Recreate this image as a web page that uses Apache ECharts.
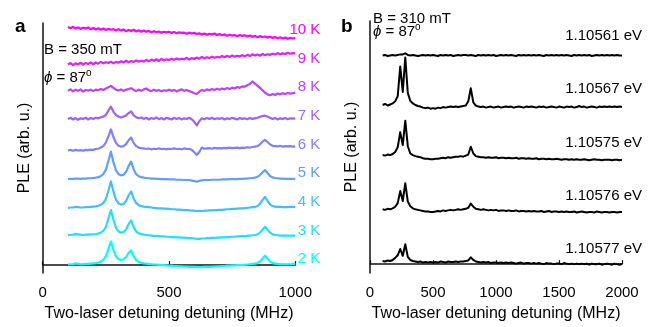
<!DOCTYPE html>
<html>
<head>
<meta charset="utf-8">
<script src="https://cdn.jsdelivr.net/npm/echarts@6/dist/echarts.min.js"></script>
<style>
  html, body { margin: 0; padding: 0; background: #fff; }
  #chart { width: 654px; height: 327px; }
</style>
</head>
<body>
<div id="chart"></div>
<script>
// ---- panel a : PLE vs temperature ----
var tempNames = ['2 K', '3 K', '4 K', '5 K', '6 K', '7 K', '8 K', '9 K', '10 K'];
var offsetsA = [0, 1, 1.96, 2.94, 3.92, 5, 5.96, 7, 8];

var detuningA = [
  100, 110, 120, 130, 140, 150, 160, 170, 180, 190,
  200, 210, 220, 230, 240, 250, 260, 270, 280, 290,
  300, 310, 320, 330, 340, 350, 360, 370, 380, 390,
  400, 410, 420, 430, 440, 450, 460, 470, 480, 490,
  500, 510, 520, 530, 540, 550, 560, 570, 580, 590,
  600, 610, 620, 630, 640, 650, 660, 670, 680, 690,
  700, 710, 720, 730, 740, 750, 760, 770, 780, 790,
  800, 810, 820, 830, 840, 850, 860, 870, 880, 890,
  900, 910, 920, 930, 940, 950, 960, 970, 980, 990,
  1000
];

var ple2K = [
  0.02, 0.03, 0.03, 0.06, 0.04, 0.03, 0.03, 0.04, 0.04, 0.05,
  0.06, 0.07, 0.09, 0.12, 0.18, 0.30, 0.55, 0.81, 0.52, 0.30,
  0.20, 0.18, 0.20, 0.27, 0.42, 0.50, 0.30, 0.17, 0.11, 0.08,
  0.06, 0.05, 0.04, 0.03, 0.02, 0.02, 0.01, 0.00, 0.00, -0.01,
  -0.02, -0.02, -0.03, -0.03, -0.04, -0.04, -0.05, -0.05, -0.06, -0.06,
  -0.06, -0.07, -0.07, -0.07, -0.06, -0.06, -0.06, -0.05, -0.05, -0.04,
  -0.04, -0.03, -0.03, -0.02, -0.02, -0.01, -0.01, 0.00, 0.00, 0.01,
  0.01, 0.02, 0.03, 0.04, 0.05, 0.07, 0.12, 0.22, 0.32, 0.22,
  0.12, 0.07, 0.05, 0.04, 0.03, 0.03, 0.03, 0.03, 0.03, 0.04,
  0.04
];
var ple3K = [
  0.03, 0.03, 0.04, 0.06, 0.05, 0.04, 0.03, 0.04, 0.04, 0.05,
  0.05, 0.06, 0.08, 0.11, 0.17, 0.30, 0.58, 0.88, 0.55, 0.28,
  0.15, 0.11, 0.13, 0.22, 0.40, 0.53, 0.30, 0.15, 0.09, 0.06,
  0.04, 0.03, 0.02, 0.01, 0.00, 0.00, -0.01, -0.02, -0.02, -0.03,
  -0.03, -0.04, -0.04, -0.05, -0.05, -0.06, -0.06, -0.07, -0.08, -0.08,
  -0.09, -0.10, -0.10, -0.09, -0.09, -0.08, -0.08, -0.07, -0.07, -0.06,
  -0.06, -0.05, -0.05, -0.04, -0.04, -0.03, -0.03, -0.02, -0.02, -0.01,
  -0.01, 0.00, 0.01, 0.02, 0.03, 0.05, 0.11, 0.21, 0.31, 0.21,
  0.11, 0.05, 0.03, 0.02, 0.01, 0.01, 0.01, 0.01, 0.01, 0.01,
  0.01
];
var ple4K = [
  0.00, 0.01, 0.01, 0.03, 0.02, 0.01, 0.01, 0.02, 0.02, 0.03,
  0.04, 0.05, 0.07, 0.10, 0.17, 0.30, 0.58, 0.90, 0.56, 0.28,
  0.15, 0.11, 0.13, 0.23, 0.42, 0.56, 0.32, 0.16, 0.09, 0.06,
  0.04, 0.03, 0.02, 0.01, 0.00, -0.01, -0.02, -0.02, -0.03, -0.03,
  -0.04, -0.05, -0.05, -0.06, -0.06, -0.07, -0.08, -0.08, -0.09, -0.10,
  -0.10, -0.11, -0.11, -0.11, -0.10, -0.10, -0.09, -0.09, -0.08, -0.08,
  -0.07, -0.07, -0.06, -0.05, -0.05, -0.04, -0.04, -0.03, -0.02, -0.02,
  -0.01, 0.00, 0.01, 0.02, 0.03, 0.06, 0.14, 0.26, 0.37, 0.24,
  0.12, 0.06, 0.04, 0.03, 0.03, 0.02, 0.02, 0.02, 0.03, 0.03,
  0.03
];
var ple5K = [
  0.00, 0.01, 0.01, 0.02, 0.02, 0.01, 0.02, 0.02, 0.03, 0.03,
  0.04, 0.05, 0.07, 0.10, 0.17, 0.32, 0.62, 0.94, 0.58, 0.30,
  0.17, 0.13, 0.15, 0.25, 0.45, 0.60, 0.34, 0.17, 0.10, 0.07,
  0.05, 0.04, 0.03, 0.02, 0.02, 0.01, 0.01, 0.00, 0.00, 0.00,
  -0.01, -0.01, -0.01, -0.02, -0.02, -0.02, -0.03, -0.03, -0.03, -0.05,
  -0.07, -0.09, -0.06, -0.04, -0.03, -0.03, -0.03, -0.02, -0.02, -0.02,
  -0.02, -0.01, -0.01, -0.01, 0.00, 0.00, 0.00, 0.00, 0.01, 0.01,
  0.02, 0.02, 0.03, 0.04, 0.05, 0.08, 0.14, 0.23, 0.31, 0.21,
  0.11, 0.06, 0.04, 0.03, 0.02, 0.02, 0.01, 0.01, 0.01, 0.01,
  0.01
];
var ple6K = [
  0.00, 0.02, -0.01, 0.02, 0.00, 0.01, -0.01, 0.02, 0.01, 0.03,
  0.02, 0.05, 0.06, 0.10, 0.15, 0.27, 0.48, 0.72, 0.46, 0.26,
  0.16, 0.13, 0.15, 0.22, 0.35, 0.44, 0.26, 0.15, 0.10, 0.08,
  0.07, 0.05, 0.07, 0.04, 0.06, 0.05, 0.07, 0.05, 0.06, 0.04,
  0.06, 0.05, 0.07, 0.05, 0.06, 0.04, 0.07, 0.05, 0.06, 0.02,
  -0.06, -0.15, -0.05, 0.10, 0.06, 0.07, 0.08, 0.06, 0.09, 0.07,
  0.08, 0.07, 0.09, 0.08, 0.10, 0.08, 0.09, 0.10, 0.08, 0.10,
  0.09, 0.11, 0.10, 0.12, 0.13, 0.15, 0.21, 0.30, 0.36, 0.29,
  0.21, 0.16, 0.15, 0.14, 0.16, 0.13, 0.15, 0.14, 0.15, 0.13,
  0.14
];
var ple7K = [
  0.00, 0.04, -0.02, 0.03, -0.03, 0.02, 0.00, 0.04, -0.02, 0.03,
  0.00, 0.04, 0.02, 0.06, 0.08, 0.14, 0.28, 0.42, 0.25, 0.13,
  0.08, 0.05, 0.08, 0.12, 0.20, 0.26, 0.12, 0.06, 0.02, 0.05,
  0.00, 0.04, -0.02, 0.03, 0.00, 0.05, -0.01, 0.03, -0.02, 0.04,
  0.01, -0.02, 0.04, 0.00, 0.03, -0.02, 0.02, 0.00, 0.04, -0.01,
  -0.10, -0.22, -0.08, 0.02, -0.01, 0.03, 0.00, 0.04, -0.01, 0.02,
  0.00, 0.03, -0.02, 0.02, 0.00, 0.04, 0.01, -0.02, 0.03, 0.00,
  0.02, -0.01, 0.03, 0.00, 0.02, 0.04, 0.07, 0.10, 0.11, 0.08,
  0.04, 0.00, 0.03, -0.02, 0.02, 0.00, 0.03, -0.01, 0.02, 0.01,
  0.02
];
var ple8K = [
  0.00, 0.05, -0.02, 0.04, 0.00, 0.05, -0.03, 0.03, 0.01, 0.04,
  -0.01, 0.04, 0.02, 0.06, 0.03, 0.08, 0.12, 0.17, 0.10, 0.04,
  0.01, 0.05, 0.00, 0.04, 0.06, 0.09, 0.03, -0.01, 0.04, 0.00,
  0.05, 0.08, 0.02, -0.01, 0.04, 0.00, 0.03, -0.02, 0.02, 0.00,
  0.04, 0.00, 0.03, -0.02, 0.02, 0.05, 0.00, 0.03, -0.01, -0.04,
  -0.08, -0.11, -0.03, 0.03, 0.00, 0.05, 0.02, 0.06, 0.03, 0.07,
  0.04, 0.08, 0.05, 0.10, 0.06, 0.11, 0.08, 0.13, 0.10, 0.15,
  0.14, 0.19, 0.23, 0.32, 0.25, 0.18, 0.10, 0.02, -0.06, -0.12,
  -0.15, -0.11, -0.14, -0.09, -0.12, -0.08, -0.11, -0.07, -0.10, -0.08,
  -0.06
];
var ple9K = [
  -0.14, -0.09, -0.16, -0.10, -0.13, -0.08, -0.14, -0.09, -0.12, -0.07,
  -0.13, -0.07, -0.11, -0.05, -0.10, -0.06, -0.09, -0.04, -0.10, -0.05,
  -0.08, -0.03, -0.07, -0.01, -0.06, -0.02, -0.05, 0.00, -0.04, -0.01,
  -0.04, 0.02, -0.03, 0.03, -0.01, 0.04, -0.02, 0.05, 0.00, 0.04,
  0.01, 0.06, 0.02, 0.07, 0.03, 0.06, 0.04, 0.09, 0.03, 0.08,
  0.05, 0.10, 0.06, 0.12, 0.07, 0.11, 0.08, 0.13, 0.09, 0.12,
  0.10, 0.15, 0.11, 0.16, 0.12, 0.17, 0.13, 0.16, 0.14, 0.18,
  0.14, 0.19, 0.15, 0.21, 0.17, 0.20, 0.16, 0.22, 0.18, 0.21,
  0.19, 0.23, 0.20, 0.25, 0.21, 0.24, 0.22, 0.26, 0.23, 0.25,
  0.24
];
var ple10K = [
  0.14, 0.10, 0.15, 0.09, 0.13, 0.08, 0.12, 0.09, 0.13, 0.07,
  0.11, 0.06, 0.10, 0.05, 0.09, 0.04, 0.08, 0.05, 0.07, 0.02,
  0.07, 0.02, 0.06, 0.00, 0.04, 0.01, 0.05, -0.01, 0.03, -0.02,
  0.02, -0.02, 0.01, -0.04, 0.00, -0.03, -0.01, -0.05, -0.02, -0.04,
  -0.02, -0.06, -0.03, -0.07, -0.04, -0.06, -0.05, -0.09, -0.05, -0.08,
  -0.06, -0.10, -0.07, -0.11, -0.08, -0.12, -0.09, -0.11, -0.08, -0.13,
  -0.10, -0.14, -0.11, -0.16, -0.12, -0.15, -0.13, -0.17, -0.13, -0.16,
  -0.14, -0.18, -0.15, -0.19, -0.16, -0.21, -0.17, -0.20, -0.18, -0.22,
  -0.19, -0.23, -0.20, -0.24, -0.21, -0.25, -0.22, -0.26, -0.23, -0.25,
  -0.24
];
var pleA = [ple2K, ple3K, ple4K, ple5K, ple6K, ple7K, ple8K, ple9K, ple10K];

// ---- panel b : PLE vs laser energy ----
var energyNames = ['1.10577 eV', '1.10576 eV', '1.10575 eV', '1.10567 eV', '1.10561 eV'];
var offsetsB = [0, 1, 2, 3, 4];

var detuningB = [
  100, 120, 140, 160, 180, 200, 220, 240, 260, 280,
  300, 320, 340, 360, 380, 400, 420, 440, 460, 480,
  500, 520, 540, 560, 580, 600, 620, 640, 660, 680,
  700, 720, 740, 760, 780, 800, 820, 840, 860, 880,
  900, 920, 940, 960, 980, 1000, 1020, 1040, 1060, 1080,
  1100, 1120, 1140, 1160, 1180, 1200, 1220, 1240, 1260, 1280,
  1300, 1320, 1340, 1360, 1380, 1400, 1420, 1440, 1460, 1480,
  1500, 1520, 1540, 1560, 1580, 1600, 1620, 1640, 1660, 1680,
  1700, 1720, 1740, 1760, 1780, 1800, 1820, 1840, 1860, 1880,
  1900, 1920, 1940, 1960, 1980, 2000
];

var ple10577 = [
  0.06, 0.05, 0.07, 0.06, 0.08, 0.12, 0.17, 0.29, 0.16, 0.38,
  0.14, 0.08, 0.06, 0.05, 0.04, 0.05, 0.03, 0.04, 0.03, 0.04,
  0.03, 0.04, 0.03, 0.05, 0.04, 0.03, 0.05, 0.04, 0.04, 0.05,
  0.04, 0.05, 0.05, 0.06, 0.07, 0.13, 0.08, 0.05, 0.04, 0.03,
  0.04, 0.03, 0.04, 0.02, 0.03, 0.03, 0.02, 0.03, 0.02, 0.03,
  0.02, 0.03, 0.02, 0.01, 0.02, 0.03, 0.01, 0.02, 0.02, 0.01,
  0.02, 0.01, 0.02, 0.01, 0.00, 0.02, 0.01, 0.01, 0.00, 0.01,
  0.01, 0.00, 0.02, 0.01, 0.00, 0.01, 0.00, 0.01, 0.00, 0.01,
  0.00, 0.01, -0.01, 0.01, 0.00, 0.00, 0.01, -0.01, 0.00, 0.01,
  0.00, -0.01, 0.01, 0.00, -0.01, 0.00
];
var ple10576 = [
  0.05, 0.04, 0.06, 0.05, 0.07, 0.10, 0.17, 0.40, 0.21, 0.55,
  0.20, 0.11, 0.07, 0.05, 0.04, 0.03, 0.02, 0.01, 0.01, 0.00,
  0.00, 0.01, 0.02, 0.01, 0.03, 0.02, 0.03, 0.04, 0.03, 0.04,
  0.05, 0.04, 0.05, 0.06, 0.08, 0.16, 0.10, 0.06, 0.05, 0.04,
  0.05, 0.04, 0.03, 0.04, 0.03, 0.04, 0.02, 0.03, 0.03, 0.02,
  0.03, 0.02, 0.02, 0.03, 0.01, 0.02, 0.02, 0.01, 0.02, 0.01,
  0.02, 0.01, 0.01, 0.02, 0.00, 0.01, 0.02, 0.00, 0.01, 0.01,
  0.00, 0.01, 0.00, 0.01, 0.00, 0.00, 0.01, -0.01, 0.00, 0.01,
  0.00, -0.01, 0.00, 0.00, -0.01, 0.01, 0.00, -0.01, 0.00, 0.00,
  -0.01, 0.00, 0.00, -0.01, 0.00, 0.00
];
var ple10575 = [
  0.09, 0.08, 0.10, 0.09, 0.11, 0.15, 0.24, 0.53, 0.28, 0.75,
  0.26, 0.12, 0.09, 0.07, 0.06, 0.05, 0.03, 0.02, 0.02, 0.01,
  0.01, 0.02, 0.02, 0.03, 0.04, 0.03, 0.05, 0.04, 0.05, 0.06,
  0.06, 0.07, 0.06, 0.08, 0.10, 0.25, 0.12, 0.07, 0.06, 0.05,
  0.05, 0.04, 0.05, 0.04, 0.04, 0.05, 0.03, 0.04, 0.04, 0.03,
  0.04, 0.03, 0.03, 0.04, 0.02, 0.03, 0.03, 0.02, 0.03, 0.02,
  0.02, 0.03, 0.01, 0.02, 0.02, 0.01, 0.02, 0.01, 0.01, 0.02,
  0.01, 0.00, 0.01, 0.01, 0.00, 0.01, 0.00, 0.01, 0.00, 0.00,
  0.01, 0.00, -0.01, 0.00, 0.01, 0.00, 0.00, -0.01, 0.00, 0.00,
  0.00, -0.01, 0.00, 0.00, -0.01, 0.00
];
var ple10567 = [
  0.05, 0.07, 0.04, 0.06, 0.08, 0.12, 0.22, 0.79, 0.30, 0.96,
  0.28, 0.13, 0.08, 0.05, 0.03, 0.02, 0.00, -0.01, 0.00, -0.02,
  -0.01, -0.02, 0.00, -0.01, 0.01, 0.00, 0.01, 0.02, 0.01, 0.02,
  0.01, 0.02, 0.03, 0.04, 0.12, 0.37, 0.10, 0.04, 0.02, 0.01,
  0.02, 0.00, 0.01, 0.02, 0.00, 0.01, 0.02, 0.00, 0.01, 0.02,
  0.01, 0.02, 0.00, 0.01, 0.02, 0.01, 0.00, 0.02, 0.01, 0.02,
  0.01, 0.00, 0.02, 0.01, 0.02, 0.00, 0.01, 0.02, 0.01, 0.00,
  0.02, 0.01, 0.00, 0.02, 0.01, 0.02, 0.00, 0.01, 0.03, 0.01,
  0.02, 0.00, 0.01, 0.02, 0.01, 0.00, 0.02, 0.01, 0.02, 0.01,
  0.02, 0.01, 0.02, 0.01, 0.02, 0.01
];
var ple10561 = [
  0.00, 0.01, -0.01, 0.00, 0.01, 0.00, 0.01, 0.02, 0.02, 0.04,
  0.01, 0.00, 0.01, 0.00, -0.01, 0.00, 0.01, 0.00, 0.01, 0.00,
  0.01, 0.00, -0.01, 0.01, 0.00, 0.01, 0.00, 0.01, -0.01, 0.00,
  0.01, 0.00, 0.01, 0.01, 0.00, 0.01, 0.00, -0.01, 0.01, 0.00,
  0.01, 0.00, 0.01, 0.00, 0.01, -0.01, 0.00, 0.01, 0.00, 0.01,
  0.00, 0.01, 0.00, -0.01, 0.01, 0.00, 0.01, 0.00, 0.01, 0.00,
  0.01, 0.00, 0.01, 0.00, -0.01, 0.01, 0.00, 0.01, 0.00, 0.01,
  0.00, 0.01, 0.00, 0.01, 0.00, -0.01, 0.01, 0.00, 0.01, 0.00,
  0.01, 0.00, 0.01, -0.01, 0.00, 0.01, 0.00, 0.01, 0.00, 0.01,
  0.00, 0.01, 0.00, 0.01, 0.00, 0.00
];
var pleB = [ple10577, ple10576, ple10575, ple10567, ple10561];

var xTicksA = [0, 500, 1000];
var xTicksB = [0, 500, 1000, 1500, 2000];

var FONT = '"Liberation Sans", Arial, sans-serif';
var INK = '#000';

// matlab "cool" colormap, cyan -> magenta
function coolColor(i, n) {
  var t = i / (n - 1);
  return 'rgb(' + Math.round(255 * t) + ',' + Math.round(255 * (1 - t)) + ',255)';
}

function xAxisOf(gridIndex, max, ticks) {
  return {
    type: 'value', gridIndex: gridIndex, min: 0, max: max, interval: ticks[1] - ticks[0],
    name: 'Two-laser detuning detuning (MHz)', nameLocation: 'middle', nameGap: 33,
    nameTextStyle: { fontFamily: FONT, fontSize: 16, color: INK },
    axisLine: { lineStyle: { color: '#111', width: 1.5 } },
    axisTick: { inside: true, length: 4, lineStyle: { color: '#111', width: 1.2 } },
    axisLabel: { fontFamily: FONT, fontSize: 15, color: INK, margin: 12,
      formatter: function (v) { return String(v); } },
    splitLine: { show: false }
  };
}

function yAxisOf(gridIndex, min, max) {
  return {
    type: 'value', gridIndex: gridIndex, min: min, max: max,
    name: 'PLE (arb. u.)', nameLocation: 'middle', nameGap: 10,
    nameTextStyle: { fontFamily: FONT, fontSize: 16, color: INK },
    axisLine: { show: true, lineStyle: { color: '#111', width: 1.5 } },
    axisTick: { show: false },
    axisLabel: { show: false },
    splitLine: { show: false }
  };
}

var series = [];

pleA.forEach(function (vals, i) {
  var color = coolColor(i, pleA.length);
  series.push({
    type: 'line', xAxisIndex: 0, yAxisIndex: 0, showSymbol: false, silent: true,
    lineStyle: { color: color, width: 2.2, join: 'round' },
    data: detuningA.map(function (x, k) { return [x, offsetsA[i] + vals[k]]; })
  });
  // temperature tag at the right end
  series.push({
    type: 'scatter', xAxisIndex: 0, yAxisIndex: 0, symbolSize: 0, silent: true,
    itemStyle: { opacity: 1, color: color },
    data: [[detuningA[detuningA.length - 1], i * 0.98 + 0.2]],
    label: {
      show: true, position: 'inside', align: 'right', offset: [25, 0],
      formatter: tempNames[i], fontFamily: FONT, fontSize: 15, color: color
    }
  });
});

pleB.forEach(function (vals, i) {
  series.push({
    type: 'line', xAxisIndex: 1, yAxisIndex: 1, showSymbol: false, silent: true,
    lineStyle: { color: '#000', width: 2, join: 'round' },
    data: detuningB.map(function (x, k) { return [x, offsetsB[i] + vals[k]]; })
  });
  series.push({
    type: 'scatter', xAxisIndex: 1, yAxisIndex: 1, symbolSize: 0, silent: true,
    itemStyle: { opacity: 1, color: '#000' },
    data: [[detuningB[detuningB.length - 1], offsetsB[i] + 0.29 + 0.02 * i]],
    label: {
      show: true, position: 'inside', align: 'right', offset: [20, 0],
      formatter: energyNames[i], fontFamily: FONT, fontSize: 15, color: INK
    }
  });
});

function note(x, y, text) {
  return {
    type: 'text', x: x, y: y, silent: true,
    style: {
      text: text, fontFamily: FONT, fontSize: 15, fill: INK, verticalAlign: 'middle',
      rich: {
        i: { fontFamily: FONT, fontSize: 15, fontStyle: 'italic', fill: INK },
        s: { fontFamily: FONT, fontSize: 10, fill: INK, padding: [0, 0, 9, 0] }
      }
    }
  };
}

function panelTag(x, y, text) {
  return {
    type: 'text', x: x, y: y, silent: true,
    style: { text: text, fontFamily: FONT, fontSize: 19, fontWeight: 'bold', fill: '#000', verticalAlign: 'bottom' }
  };
}

var chart = echarts.init(document.getElementById('chart'));
chart.setOption({
  animation: false,
  backgroundColor: '#fff',
  grid: [
    { left: 42.7, right: 358.7, top: 23, bottom: 51 },
    { left: 370, right: 32, top: 21, bottom: 51 }
  ],
  xAxis: [xAxisOf(0, 1000, xTicksA), xAxisOf(1, 2000, xTicksB)],
  yAxis: [yAxisOf(0, -0.27, 8.28), yAxisOf(1, -0.17, 4.66)],
  series: series,
  graphic: [
    panelTag(15, 36, 'a'),
    panelTag(341, 36, 'b'),
    note(44, 50, 'B = 350 mT'),
    note(44, 78, '{i|ϕ} = 87{s|o}'),
    note(373, 19, 'B = 310 mT'),
    note(373, 32, '{i|ϕ} = 87{s|o}')
  ]
});
</script>
</body>
</html>
